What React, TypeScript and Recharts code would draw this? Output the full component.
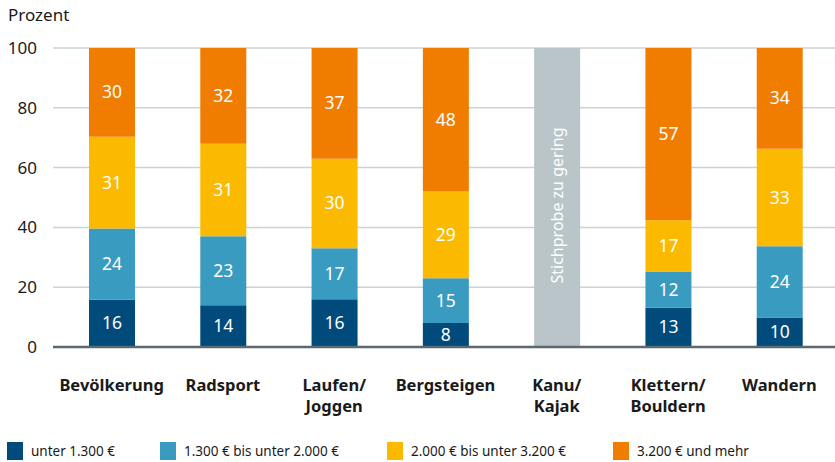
import React from 'react';
import { BarChart, Bar, XAxis, YAxis, CartesianGrid, ReferenceLine, LabelList } from 'recharts';

// Einkommensgruppen je Sportart (Prozent)
const categories = ['Bevölkerung', 'Radsport', 'Laufen/\nJoggen', 'Bergsteigen', 'Kanu/\nKajak', 'Klettern/\nBouldern', 'Wandern'];
const unter1300 = [16, 14, 16, 8, null, 13, 10];
const bis2000 = [24, 23, 17, 15, null, 12, 24];
const bis3200 = [31, 31, 30, 29, null, 17, 33];
const ab3200 = [30, 32, 37, 48, null, 57, 34];
// Kanu/Kajak: Stichprobe zu gering
const keineAngabe = [0, 0, 0, 0, 1, 0, 0];
const yTicks = [0, 0.2, 0.4, 0.6, 0.8, 1];

const series = [
  { key: 'u1300', name: 'unter 1.300 €', color: '#004b7c' },
  { key: 'b2000', name: '1.300 € bis unter 2.000 €', color: '#3a9bc1' },
  { key: 'b3200', name: '2.000 € bis unter 3.200 €', color: '#fbb900' },
  { key: 'a3200', name: '3.200 € und mehr', color: '#f07d00' },
];

const data = categories.map((c, i) => ({
  name: c,
  u1300: unter1300[i],
  b2000: bis2000[i],
  b3200: bis3200[i],
  a3200: ab3200[i],
  na: keineAngabe[i],
}));

const FONT = '"Noto Sans", "Open Sans", sans-serif';

const XTick = ({ x, y, payload }: any) => {
  const lines = String(payload.value).split('\n');
  return (
    <g>
      {lines.map((l, i) => (
        <text key={i} x={x} y={y + 36 + i * 21} textAnchor="middle" fontSize={16.5} fontWeight={700} fill="#1a1a1a" fontFamily={FONT}>
          {l}
        </text>
      ))}
    </g>
  );
};

const YTick = ({ y, payload }: any) => (
  <text x={37} y={y + 6} textAnchor="end" fontSize={17} fill="#1a1a1a" fontFamily={FONT}>
    {Math.round(payload.value * 100)}
  </text>
);

const valueLabel = (props: any) => {
  const { x, y, width, height, value } = props;
  if (value == null || value === 0) return null;
  return (
    <text x={x + width / 2} y={y + height / 2 + 6} textAnchor="middle" fontSize={17.5} fill="#ffffff" fontFamily={FONT}>
      {value}
    </text>
  );
};

const naLabel = (props: any) => {
  const { x, y, width, height, value } = props;
  if (!value) return null;
  const cx = x + width / 2;
  const cy = y + height / 2 + 8;
  return (
    <text x={cx} y={cy} transform={`rotate(-90 ${cx} ${cy})`} dy={6} textAnchor="middle" fontSize={16} fill="#ffffff" fontFamily={FONT}>
      Stichprobe zu gering
    </text>
  );
};

const legendX = [7, 160, 387, 613];

export default function App() {
  return (
    <div style={{ position: 'absolute', left: 0, top: 0, width: 835, height: 462, background: '#fff', fontFamily: FONT }}>
      <div style={{ position: 'absolute', left: 8, top: 3, fontSize: 17, color: '#1a1a1a' }}>Prozent</div>
      <BarChart
        width={835}
        height={462}
        data={data}
        stackOffset="expand"
        barSize={46}
        margin={{ top: 48, right: 0, left: 0, bottom: 35 }}
      >
        <CartesianGrid vertical={false} stroke="#c9d3d7" strokeWidth={1.5} />
        <XAxis dataKey="name" axisLine={false} tickLine={false} height={80} tick={<XTick />} interval={0} padding={{ left: 3, right: 0 }} />
        <YAxis width={53} domain={[0, 1]} ticks={yTicks} axisLine={false} tickLine={false} tick={<YTick />} />
        {series.map((s) => (
          <Bar key={s.key} dataKey={s.key} stackId="a" fill={s.color} isAnimationActive={false}>
            <LabelList dataKey={s.key} content={valueLabel} />
          </Bar>
        ))}
        <Bar dataKey="na" stackId="a" fill="#b9c5c9" isAnimationActive={false}>
          <LabelList dataKey="na" content={naLabel} />
        </Bar>
        <ReferenceLine y={0} stroke="#5b6a70" strokeWidth={2.5} />
      </BarChart>
      {series.map((s, i) => (
        <div key={s.key} style={{ position: 'absolute', left: legendX[i], top: 442, display: 'flex', alignItems: 'center' }}>
          <div style={{ width: 16, height: 18, background: s.color, marginRight: 8 }} />
          <span style={{ fontSize: 13.5, color: '#1a1a1a' }}>{s.name}</span>
        </div>
      ))}
    </div>
  );
}
